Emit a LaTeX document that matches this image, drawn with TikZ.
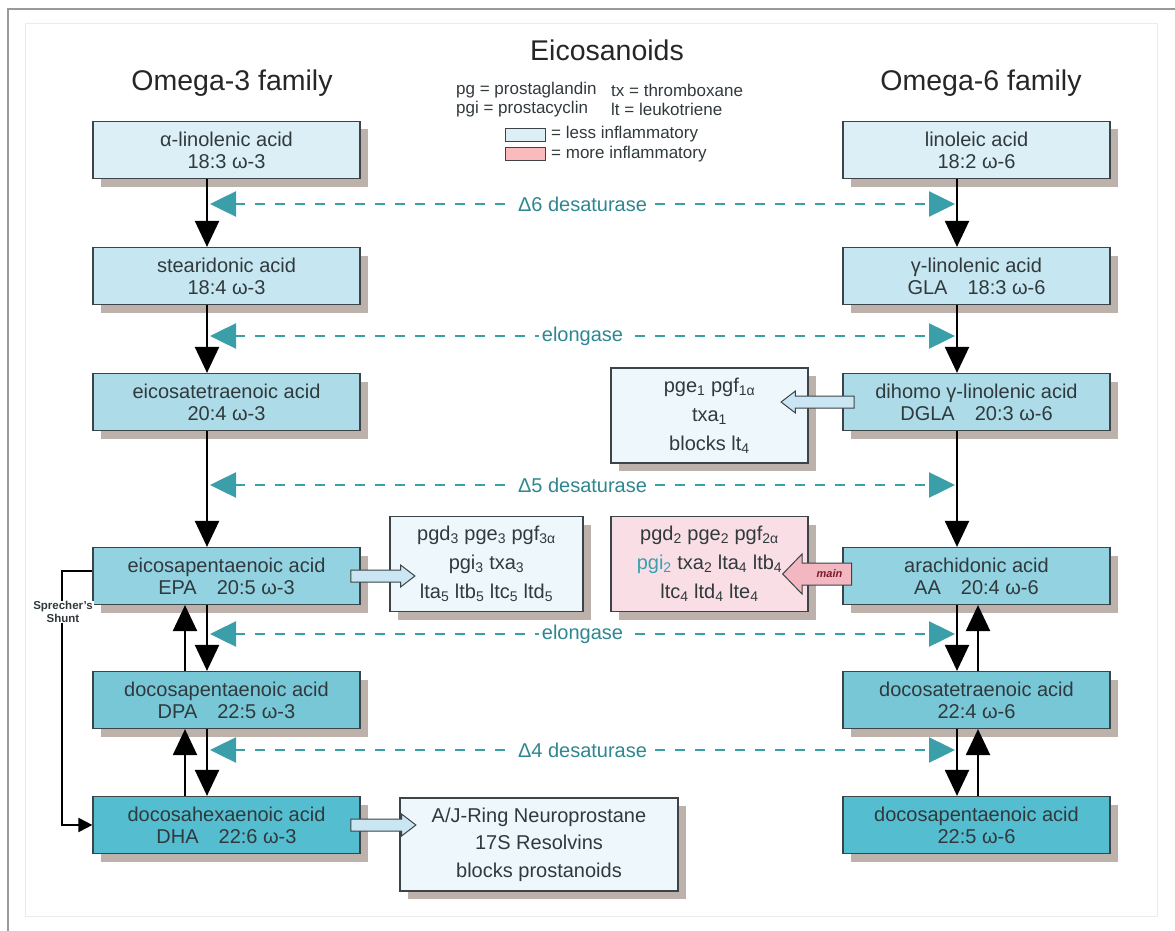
\documentclass[tikz,border=0pt]{standalone}
\usepackage{fontspec}
\setmainfont{Liberation Sans}
\usetikzlibrary{arrows.meta,shadows,shapes.arrows}

\definecolor{boxline}{HTML}{3C4448}
\definecolor{ink}{HTML}{30393C}
\definecolor{shadowc}{HTML}{BDB1AC}
\definecolor{tone1}{HTML}{DCEFF7}
\definecolor{tone2}{HTML}{C6E7F1}
\definecolor{tone3}{HTML}{ADDCE8}
\definecolor{tone4}{HTML}{93D2E0}
\definecolor{tone5}{HTML}{78C7D7}
\definecolor{tone6}{HTML}{55BDD0}
\definecolor{paleblue}{HTML}{EEF7FB}
\definecolor{palepink}{HTML}{F9DFE5}
\definecolor{arrowblue}{HTML}{C9E6F2}
\definecolor{arrowpink}{HTML}{F3B7C2}
\definecolor{enzc}{HTML}{3A9FA8}
\definecolor{enztext}{HTML}{2E8790}
\definecolor{pgicol}{HTML}{3AA0B0}
\definecolor{maincol}{HTML}{7A1A28}

\newcommand{\low}[1]{\textsubscript{#1}}

\begin{document}
\begin{tikzpicture}[x=1pt,y=-1pt,font=\fontsize{20}{22}\selectfont,
  acid/.style={draw=boxline, line width=1.2pt, minimum width=267pt,
    minimum height=57pt, align=center, text=ink, inner sep=2pt,
    drop shadow={shadow xshift=8pt, shadow yshift=-8pt, fill=shadowc, opacity=1}},
  product/.style={acid, fill=paleblue, minimum height=95pt,
    font=\fontsize{20}{29}\selectfont},
  convert/.style={line width=2.2pt, -{Triangle[width=24pt,length=26pt]}},
  enzyme/.style={enzc, line width=2.5pt, dash pattern=on 10pt off 10pt,
    {Triangle[width=25pt,length=26pt]}-{Triangle[width=25pt,length=26pt]}},
  enzlabel/.style={fill=white, text=enztext, inner sep=3pt},
  blockarr/.style={single arrow, draw=boxline, line width=1pt, fill=arrowblue,
    inner sep=0pt, single arrow head extend=5pt, single arrow tip angle=75},
  legend/.style={font=\fontsize{17}{19}\selectfont, text=ink, anchor=west, inner sep=0pt},
  header/.style={font=\fontsize{28.5}{30}\selectfont, text=black!85}]

  \useasboundingbox (0,0) rectangle (1175,931);
  \draw[black!8] (25,23) rectangle (1157,916);
  \draw[black!40, line width=2.5pt] (8,931) -- (8,9) -- (1175,9);

  % titles and legend
  \node[header] (title) at (607,50) {Eicosanoids};
  \node[header] (omega3) at (232,83) {Omega-3 family};
  \node[header] (omega6) at (981,83) {Omega-6 family};
  \node[legend] (pg) at (456,90) {pg = prostaglandin};
  \node[legend] (tx) at (611,90) {tx = thromboxane};
  \node[legend] (pgi) at (456,109) {pgi = prostacyclin};
  \node[legend] (lt) at (611,109) {lt = leukotriene};
  \draw[boxline, fill=tone1] (505,128) rectangle (545,141);
  \draw[boxline, fill=palepink!80!red!90] (505,147) rectangle (545,160);
  \node[legend] (less) at (551,134) {= less inflammatory};
  \node[legend] (more) at (551,154) {= more inflammatory};

  % acid boxes
  \foreach \y/\lt/\rt [count=\n] in
    {150/{α-linolenic acid\\18:3 ω-3}/{linoleic acid\\18:2 ω-6},
     276/{stearidonic acid\\18:4 ω-3}/{γ-linolenic acid\\GLA\quad 18:3 ω-6},
     402/{eicosatetraenoic acid\\20:4 ω-3}/{dihomo γ-linolenic acid\\DGLA\quad 20:3 ω-6},
     576/{eicosapentaenoic acid\\EPA\quad 20:5 ω-3}/{arachidonic acid\\AA\quad 20:4 ω-6},
     700/{docosapentaenoic acid\\DPA\quad 22:5 ω-3}/{docosatetraenoic acid\\22:4 ω-6},
     825/{docosahexaenoic acid\\DHA\quad 22:6 ω-3}/{docosapentaenoic acid\\22:5 ω-6}}{
    \node[acid, fill=tone\n] (l\n) at (226.5,\y) {\lt};
    \node[acid, fill=tone\n] (r\n) at (976.5,\y) {\rt};
  }

  % products
  \node[product, minimum width=197pt] (dprod) at (709.5,415.5)
    {pge\low{1} pgf\low{1α}\\txa\low{1}\\blocks lt\low{4}};
  \node[product, minimum width=193pt] (eprod) at (486.5,564)
    {pgd\low{3} pge\low{3} pgf\low{3α}\\pgi\low{3} txa\low{3}\\lta\low{5} ltb\low{5} ltc\low{5} ltd\low{5}};
  \node[product, minimum width=197pt, fill=palepink] (aprod) at (709.5,564)
    {pgd\low{2} pge\low{2} pgf\low{2α}\\\textcolor{pgicol}{pgi\low{2}} txa\low{2} lta\low{4} ltb\low{4}\\ltc\low{4} ltd\low{4} lte\low{4}};
  \node[product, minimum width=278pt, minimum height=93pt,
    font=\fontsize{20}{27.5}\selectfont] (hprod) at (539,844.5)
    {A/J-Ring Neuroprostane\\17S Resolvins\\blocks prostanoids};

  % conversions
  \foreach \a/\b in {1/2,2/3,3/4,4/5,5/6}{
    \draw[convert] ([xshift=-19.5pt]l\a.south) -- ([xshift=-19.5pt]l\b.north);
    \draw[convert] ([xshift=-19.5pt]r\a.south) -- ([xshift=-19.5pt]r\b.north);
  }
  \foreach \a/\b in {5/4,6/5}{
    \draw[convert] ([xshift=-41.5pt]l\a.north) -- ([xshift=-41.5pt]l\b.south);
    \draw[convert] ([xshift=1.5pt]r\a.north) -- ([xshift=1.5pt]r\b.south);
  }

  % enzymes
  \foreach \y/\lbl [count=\k] in {204/Δ6 desaturase, 336/elongase,
      485/Δ5 desaturase, 634/elongase, 750/Δ4 desaturase}{
    \coordinate (w\k) at (210,\y);
    \coordinate (e\k) at (955,\y);
    \draw[enzyme] (w\k) -- (e\k) node[midway, enzlabel] (z\k) {\lbl};
  }

  % block arrows
  \path ([xshift=-13pt]l4.east) -- ([xshift=21pt]l4.east -| eprod.west)
    node[midway, blockarr, minimum height=64pt] (epaout) {\rule[-5.5pt]{0pt}{11pt}};
  \path ([xshift=-13pt]l6.east) -- ([xshift=12pt]l6.east -| hprod.west)
    node[midway, blockarr, minimum height=65pt] (dhaout) {\rule[-5.5pt]{0pt}{11pt}};
  \path ([xshift=15pt]r3.west) -- ([xshift=-23pt]r3.west -| dprod.east)
    node[midway, blockarr, shape border rotate=180, minimum height=73pt] (dglaout)
    {\rule[-5.5pt]{0pt}{11pt}};
  \path ([xshift=14pt,yshift=2pt]r4.west) -- ([xshift=-20pt,yshift=2pt]r4.west -| aprod.east)
    node[midway, blockarr, shape border rotate=180, fill=arrowpink, minimum height=69pt,
      single arrow head extend=9pt, single arrow tip angle=92,
      font=\fontsize{11}{11}\bfseries\itshape, text=maincol] (aaout)
    {\rule[-10.5pt]{0pt}{21pt}\hspace{14pt}\raisebox{-3.5pt}{main}\hspace{2pt}};

  % Sprecher's shunt
  \draw[line width=2pt, -{Triangle[width=14pt,length=14pt]}]
    ([yshift=5pt]l4.west) -- ++(-30,0) |- (l6.west);
  \node[fill=white, align=center, inner sep=1pt, text=ink,
    font=\fontsize{11.5}{12.5}\bfseries] (shunt) at (63,612) {Sprecher's\\Shunt};
\end{tikzpicture}
\end{document}
